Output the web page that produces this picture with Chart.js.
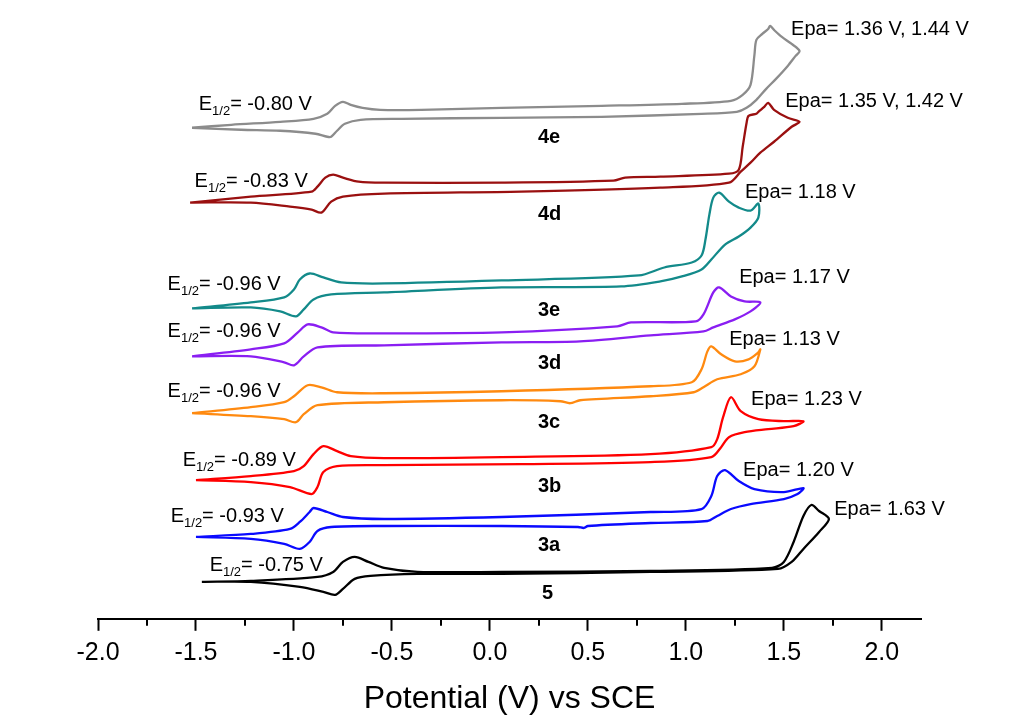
<!DOCTYPE html>
<html>
<head>
<meta charset="utf-8">
<script src="https://cdn.jsdelivr.net/npm/chart.js@4.4.1/dist/chart.umd.min.js"></script>
<style>
  html, body { margin: 0; padding: 0; background: #fff; }
  #wrap { width: 1021px; height: 718px; }
</style>
</head>
<body>
<div id="wrap"><canvas id="cv" width="1021" height="718"></canvas></div>
<script>
const FONT = '"Liberation Sans", Arial, Helvetica, sans-serif';

// x axis ticks (V vs SCE)
const majorTicks = [-2.0, -1.5, -1.0, -0.5, 0.0, 0.5, 1.0, 1.5, 2.0];
const minorTicks = [-1.75, -1.25, -0.75, -0.25, 0.25, 0.75, 1.25, 1.75];

// CV traces as [E (V), i (a.u., stacked)], forward scan then return scan
const cv4e = [[-1.52,492],[-1.32,495],[-1.07,498],[-0.90,501],[-0.83,506],[-0.79,514],[-0.75,518],[-0.71,515],[-0.65,512],[-0.56,510],[-0.35,510],[0.06,512],[0.57,514],[0.98,516],[1.23,519],[1.29,525],[1.33,535],[1.35,565],[1.36,580],[1.39,586],[1.42,591],[1.43,594],[1.45,590],[1.49,583],[1.54,576],[1.58,569],
  [1.56,564],[1.52,554],[1.46,541],[1.41,531],[1.36,520],[1.31,512],[1.26,508],[1.08,506],[0.57,503],[0.06,502],[-0.45,501],[-0.66,500],[-0.74,496],[-0.78,489],[-0.81,483],[-0.83,483],[-0.89,486],[-1.07,489],[-1.27,490],[-1.52,492]];
const cv4d = [[-1.53,417],[-1.22,423],[-0.91,428],[-0.88,433],[-0.84,442],[-0.80,445],[-0.75,442],[-0.67,438],[-0.54,437],[0.06,437],[0.63,439],[0.69,442],[0.87,443],[1.22,446],[1.27,450],[1.29,473],[1.31,497],[1.32,504],[1.36,506],[1.37,508],[1.40,513],[1.42,517],[1.45,510],[1.52,502],[1.58,498],
  [1.54,493],[1.45,478],[1.38,467],[1.33,457],[1.28,448],[1.22,437],[0.87,432],[0.16,428],[-0.54,426],[-0.75,423],[-0.81,418],[-0.86,407],[-0.91,410],[-1.02,413],[-1.22,417],[-1.53,417]];
const cv3e = [[-1.52,311],[-1.22,317],[-1.05,322],[-1.00,330],[-0.97,340],[-0.92,346],[-0.85,342],[-0.76,337],[-0.54,336],[0.06,339],[0.76,344],[0.89,352],[1.03,357],[1.08,364],[1.10,380],[1.12,405],[1.14,422],[1.17,427],[1.22,418],[1.27,412],[1.33,409],[1.37,416],
  [1.37,402],[1.33,392],[1.27,383],[1.20,375],[1.13,360],[1.08,350],[0.98,343],[0.87,338],[0.67,333],[0.06,332],[-0.54,327],[-0.81,325],[-0.90,320],[-0.95,310],[-0.99,303],[-1.07,308],[-1.22,312],[-1.52,311]];
const cv3d = [[-1.52,263],[-1.22,270],[-1.05,276],[-0.98,287],[-0.93,295],[-0.86,292],[-0.80,287],[-0.54,286],[0.06,287],[0.65,293],[0.72,297],[1.05,298],[1.09,305],[1.14,327],[1.17,332],[1.23,323],[1.30,318],[1.38,317],
  [1.33,308],[1.25,300],[1.14,292],[1.09,288],[0.82,284],[0.46,278],[0.06,277],[-0.54,274],[-0.88,272],[-0.95,263],[-1.00,254],[-1.05,257],[-1.22,263],[-1.52,263]];
const cv3c = [[-1.52,206],[-1.22,212],[-1.05,217],[-1.00,223],[-0.93,234],[-0.86,232],[-0.78,227],[-0.54,226],[0.06,228],[0.82,233],[1.03,237],[1.08,250],[1.11,268],[1.13,273],[1.18,265],[1.25,258],[1.32,260],[1.37,267],[1.38,270],
  [1.35,253],[1.28,245],[1.16,240],[1.09,232],[1.04,227],[0.82,223],[0.46,219],[0.41,216],[0.36,218],[0.06,219],[-0.54,217],[-0.88,214],[-0.95,205],[-0.99,197],[-1.05,200],[-1.22,203],[-1.52,206]];
const cv3b = [[-1.50,139],[-1.22,143],[-1.00,148],[-0.95,153],[-0.90,165],[-0.85,173],[-0.78,168],[-0.71,163],[-0.54,161],[0.06,162],[0.82,165],[1.13,172],[1.16,180],[1.19,202],[1.23,222],[1.28,208],[1.37,200],[1.50,198],[1.60,198],
  [1.55,193],[1.42,190],[1.30,187],[1.22,182],[1.18,172],[1.13,162],[0.82,157],[0.16,155],[-0.54,154],[-0.78,153],[-0.85,147],[-0.88,132],[-0.91,125],[-1.02,132],[-1.22,137],[-1.50,139]];
const cv3a = [[-1.50,82],[-1.22,85],[-1.02,90],[-0.97,97],[-0.92,107],[-0.90,111],[-0.83,107],[-0.75,102],[-0.54,100],[0.06,102],[0.82,107],[1.08,110],[1.13,123],[1.16,143],[1.20,149],[1.27,138],[1.35,130],[1.50,127],[1.60,131],
  [1.57,125],[1.50,120],[1.33,115],[1.23,110],[1.16,103],[1.11,98],[0.82,96],[0.50,93],[0.48,91],[0.45,92],[0.06,93],[-0.54,93],[-0.81,92],[-0.88,88],[-0.92,77],[-0.97,70],[-1.05,75],[-1.22,80],[-1.50,82]];
const cv5 = [[-1.47,37],[-1.22,38],[-0.88,42],[-0.80,47],[-0.75,57],[-0.69,62],[-0.62,57],[-0.54,51],[-0.37,47],[0.06,47],[0.82,48],[1.44,51],[1.50,57],[1.55,77],[1.60,103],[1.64,114],[1.68,108],[1.73,100],
  [1.68,87],[1.60,70],[1.54,57],[1.47,50],[0.82,47],[0.06,45],[-0.37,45],[-0.61,43],[-0.69,40],[-0.75,30],[-0.79,24],[-0.85,27],[-0.97,32],[-1.22,37],[-1.47,37]];

const seriesNames = ['4e', '4d', '3e', '3d', '3c', '3b', '3a', '5'];
const seriesData = [cv4e, cv4d, cv3e, cv3d, cv3c, cv3b, cv3a, cv5];
const seriesColors = ['#8c8c8c', '#9a1010', '#138a8a', '#8a1ef2', '#ff8a10', '#ff0000', '#0a0aff', '#000000'];

// E1/2 and Epa values as printed
const halfWave = ['-0.80', '-0.83', '-0.96', '-0.96', '-0.96', '-0.89', '-0.93', '-0.75'];
const anodicPeak = ['1.36 V, 1.44 V', '1.35 V, 1.42 V', '1.18 V', '1.17 V', '1.13 V', '1.23 V', '1.20 V', '1.63 V'];

// label anchors in data units (left edge, vertical centre)
const halfWaveAt = [[-1.486,517],[-1.507,440],[-1.645,336],[-1.645,289],[-1.645,229],[-1.568,160],[-1.629,104],[-1.430,55]];
const anodicAt = [[1.537,592],[1.507,520],[1.302,429],[1.272,343],[1.221,281],[1.333,221],[1.292,150],[1.757,111]];
const nameAt = [[0.245,484],[0.245,407],[0.245,310],[0.245,257],[0.245,198],[0.245,134],[0.245,75],[0.266,27]];

const labelPlugin = {
  id: 'cvLabels',
  afterDatasetsDraw(chart) {
    const { ctx, scales: { x, y } } = chart;
    ctx.save();
    ctx.fillStyle = '#000';
    ctx.textAlign = 'left';
    ctx.textBaseline = 'alphabetic';
    seriesNames.forEach((name, i) => {
      // E1/2 with subscript
      let px = x.getPixelForValue(halfWaveAt[i][0]);
      const base = y.getPixelForValue(halfWaveAt[i][1]) + 7;
      ctx.font = '20px ' + FONT;
      ctx.fillText('E', px, base);
      px += ctx.measureText('E').width;
      ctx.font = '13px ' + FONT;
      ctx.fillText('1/2', px, base + 5);
      px += ctx.measureText('1/2').width;
      ctx.font = '20px ' + FONT;
      ctx.fillText('= ' + halfWave[i] + ' V', px, base);
      // Epa
      ctx.fillText('Epa= ' + anodicPeak[i], x.getPixelForValue(anodicAt[i][0]), y.getPixelForValue(anodicAt[i][1]) + 7);
      // compound number
      ctx.font = 'bold 20px ' + FONT;
      ctx.fillText(name, x.getPixelForValue(nameAt[i][0]), y.getPixelForValue(nameAt[i][1]) + 7);
    });
    ctx.restore();
  }
};

const minorTickPlugin = {
  id: 'minorTicks',
  afterDraw(chart) {
    const { ctx, scales: { x } } = chart;
    ctx.save();
    ctx.strokeStyle = '#000';
    ctx.lineWidth = 2;
    minorTicks.forEach(v => {
      const px = Math.round(x.getPixelForValue(v));
      ctx.beginPath();
      ctx.moveTo(px, x.top);
      ctx.lineTo(px, x.top + 7);
      ctx.stroke();
    });
    ctx.restore();
  }
};

new Chart(document.getElementById('cv'), {
  type: 'scatter',
  data: {
    datasets: seriesData.map((d, i) => ({
      label: seriesNames[i],
      data: d.map(p => ({ x: p[0], y: p[1] })),
      showLine: true,
      borderColor: seriesColors[i],
      borderWidth: 2.3,
      pointRadius: 0,
      tension: 0.3,
      fill: false
    }))
  },
  options: {
    responsive: false,
    animation: false,
    layout: { padding: { left: 98, right: 100, top: 10, bottom: 0 } },
    plugins: { legend: { display: false }, tooltip: { enabled: false } },
    scales: {
      x: {
        type: 'linear',
        min: -2.0,
        max: 2.2,
        afterBuildTicks: s => { s.ticks = majorTicks.map(v => ({ value: v })); },
        grid: { display: true, drawOnChartArea: false, drawTicks: true, tickLength: 12, tickWidth: 2, tickColor: '#000' },
        border: { display: true, color: '#000', width: 2 },
        ticks: {
          color: '#000', padding: 7, maxRotation: 0, autoSkip: false,
          font: { family: FONT, size: 25 },
          callback: v => Number(v).toFixed(1)
        },
        title: {
          display: true, text: 'Potential (V) vs SCE', color: '#000',
          font: { family: FONT, size: 32, lineHeight: 1.1 },
          padding: { top: 7, bottom: 1 }
        }
      },
      y: { display: false, min: 0, max: 610 }
    }
  },
  plugins: [labelPlugin, minorTickPlugin]
});
</script>
</body>
</html>
